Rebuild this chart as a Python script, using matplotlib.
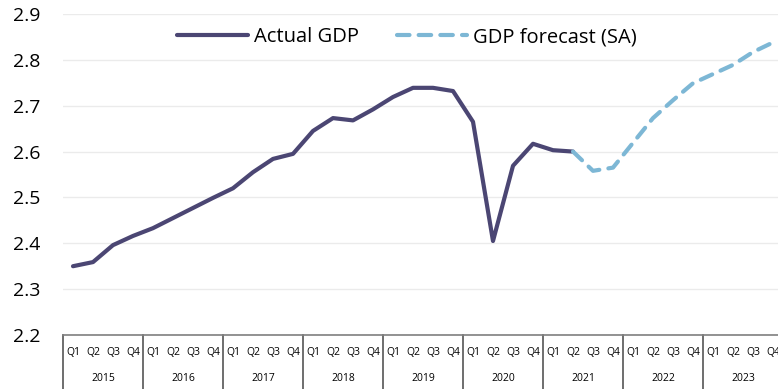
import matplotlib.pyplot as plt
import numpy as np

plt.rcParams['font.family'] = ['Open Sans', 'DejaVu Sans']

# quarterly GDP (index)
years = ['2015', '2016', '2017', '2018', '2019', '2020', '2021', '2022', '2023']
quarters = ['Q1', 'Q2', 'Q3', 'Q4']

actual_gdp = [2.350, 2.359, 2.396, 2.416, 2.433, 2.455, 2.477, 2.499,
              2.520, 2.555, 2.584, 2.595, 2.645, 2.673, 2.668, 2.692,
              2.719, 2.739, 2.739, 2.732, 2.665, 2.405, 2.569, 2.617,
              2.603, 2.600]
# forecast starts at 2021 Q2
forecast_gdp = [2.600, 2.558, 2.565, 2.619, 2.673, 2.712, 2.749,
                2.769, 2.789, 2.817, 2.838]
forecast_start = 25

actual_color = '#4b4673'
forecast_color = '#7db7d5'

W, H = 778, 389
fig = plt.figure(figsize=(W / 100, H / 100), dpi=100)
ax = fig.add_axes([63 / W, (H - 335) / H, 720 / W, 321 / H])

x_act = np.arange(len(actual_gdp))
x_fc = np.arange(forecast_start, forecast_start + len(forecast_gdp))

ax.plot(x_act, actual_gdp, color=actual_color, lw=3,
        solid_capstyle='round', solid_joinstyle='round', label='Actual GDP')
ax.plot(x_fc, forecast_gdp, color=forecast_color, lw=3, linestyle=(0, (3, 2.2)),
        dash_capstyle='round', label='GDP forecast (SA)')

n = len(years) * len(quarters)
ax.set_xlim(-0.5, n - 0.5)
ax.set_ylim(2.2, 2.9)
ticks = np.arange(2.2, 2.91, 0.1)
ax.set_yticks(ticks)
ax.set_yticklabels(['%.1f' % v for v in ticks], fontsize=14)
ax.tick_params(axis='y', length=0, pad=16)
ax.set_xticks([])
ax.grid(axis='y', color='#ebebeb', lw=1)
ax.set_axisbelow(True)
for s in ['left', 'right', 'top']:
    ax.spines[s].set_visible(False)
ax.spines['bottom'].set_color('#7f7f7f')
ax.spines['bottom'].set_linewidth(1.2)

# category axis: quarters above years, boxed per year
trans = ax.get_xaxis_transform()
for k, yr in enumerate(years):
    for j, q in enumerate(quarters):
        ax.text(4 * k + j, -0.055, q, transform=trans, ha='center', va='center',
                fontsize=7.5, clip_on=False)
    ax.text(4 * k + 1.5, -0.135, yr, transform=trans, ha='center', va='center',
            fontsize=7.5, clip_on=False)
for k in range(len(years) + 1):
    ax.plot([4 * k - 0.5, 4 * k - 0.5], [0, -0.2], transform=trans,
            color='#555555', lw=1.2, clip_on=False)

ax.legend(loc='center', bbox_to_anchor=(0.478, 0.928), ncol=2, frameon=False,
          fontsize=14.5, handlelength=3.5, columnspacing=1.9, handletextpad=0.3)

fig.savefig('out.png', dpi=100)
